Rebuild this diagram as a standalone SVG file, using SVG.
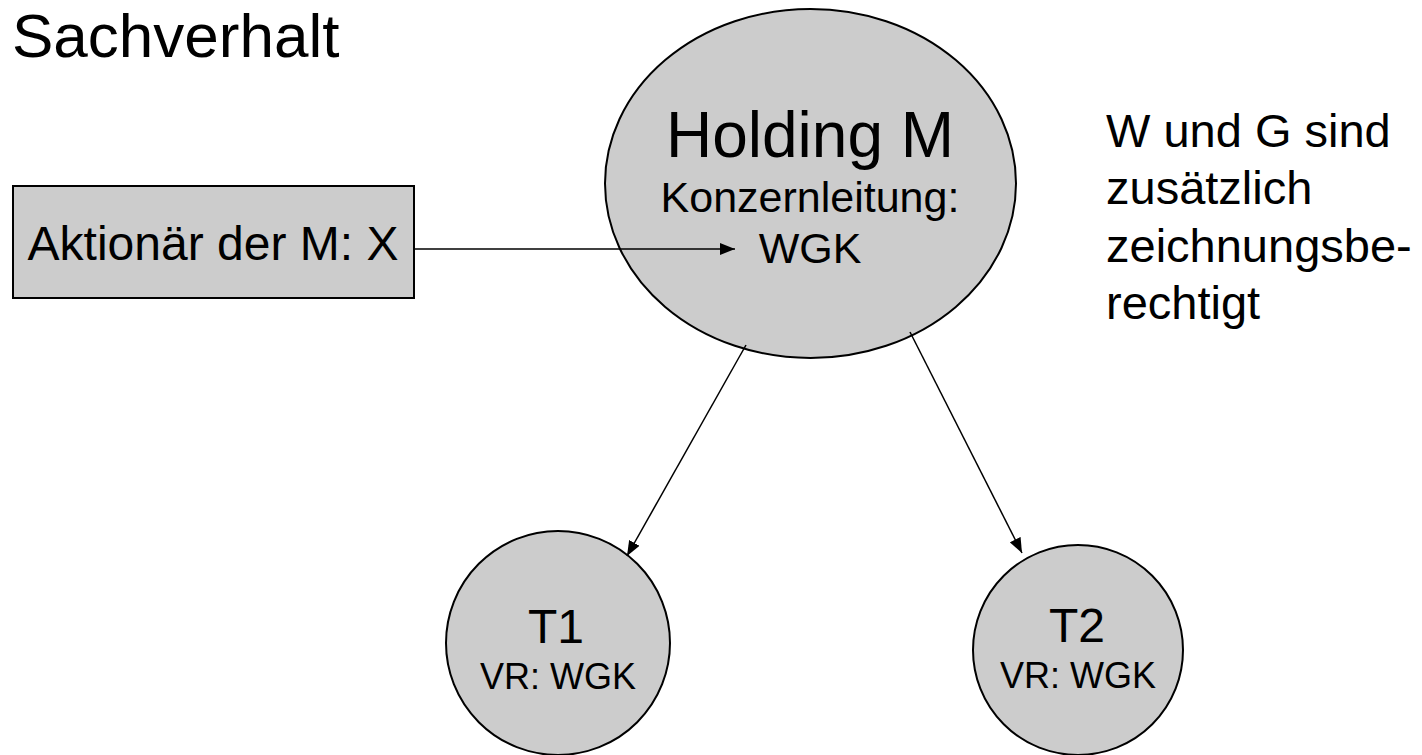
<svg xmlns="http://www.w3.org/2000/svg" width="1422" height="755" viewBox="0 0 1422 755">
<defs>
<style>
text{font-family:"Liberation Sans",Arial,sans-serif;fill:#000}
.node{fill:#cccccc;stroke:#000;stroke-width:2}
.edge{stroke:#000;stroke-width:1.5;fill:none}
</style>
<marker id="ah" viewBox="0 0 15 12" refX="15" refY="6" markerWidth="15" markerHeight="12" markerUnits="userSpaceOnUse" orient="auto">
<path d="M0,0 L15,6 L0,12 z" fill="#000"/>
</marker>
</defs>
<rect width="1422" height="755" fill="#fff"/>
<text x="12" y="57" font-size="62">Sachverhalt</text>
<g id="aktionaer">
<rect class="node" x="13" y="186" width="401" height="112"/>
<text x="213" y="260" font-size="48" text-anchor="middle">Aktionär der M: X</text>
</g>
<g id="holding">
<ellipse class="node" cx="810.5" cy="183.5" rx="205.5" ry="174.5"/>
<text x="810" y="157" font-size="64" text-anchor="middle">Holding M</text>
<text x="810" y="212" font-size="43" text-anchor="middle">Konzernleitung:</text>
<text x="810" y="263" font-size="43" text-anchor="middle">WGK</text>
</g>
<g id="t1">
<circle class="node" cx="558" cy="643" r="112"/>
<text x="556" y="643" font-size="48" text-anchor="middle">T1</text>
<text x="558" y="689" font-size="36" text-anchor="middle">VR: WGK</text>
</g>
<g id="t2">
<circle class="node" cx="1078" cy="650" r="105"/>
<text x="1077" y="642" font-size="48" text-anchor="middle">T2</text>
<text x="1078" y="688" font-size="36" text-anchor="middle">VR: WGK</text>
</g>
<g id="note">
<text x="1106" y="147" font-size="47">W und G sind</text>
<text x="1106" y="204" font-size="47">zusätzlich</text>
<text x="1106" y="262" font-size="47">zeichnungsbe-</text>
<text x="1106" y="319" font-size="47">rechtigt</text>
</g>
<g id="connectors">
<line class="edge" x1="414" y1="249" x2="735" y2="249" marker-end="url(#ah)"/>
<line class="edge" x1="746" y1="345" x2="627" y2="556" marker-end="url(#ah)"/>
<line class="edge" x1="910" y1="332" x2="1022" y2="553" marker-end="url(#ah)"/>
</g>
</svg>
